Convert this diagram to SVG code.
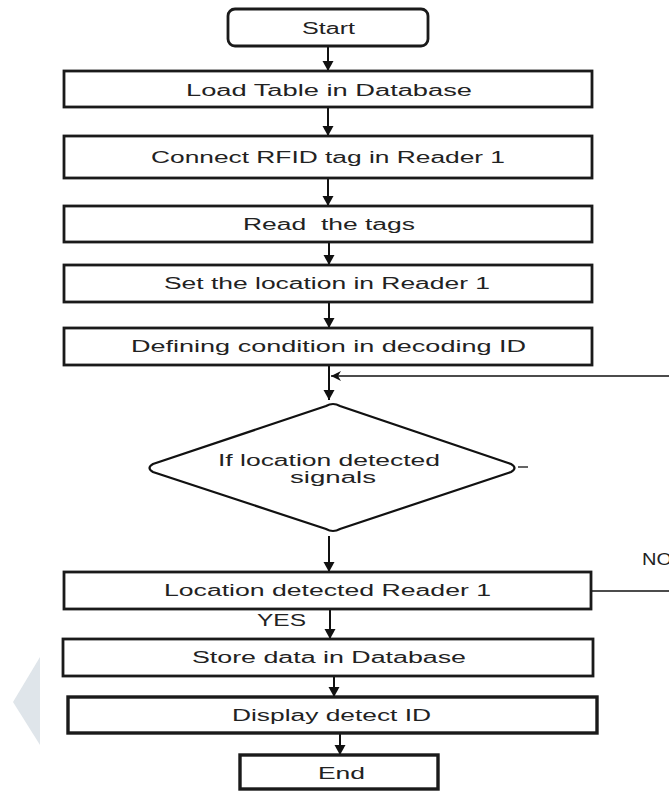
<svg xmlns="http://www.w3.org/2000/svg" width="669" height="791" viewBox="0 0 669 791">
<defs>
<style>
.box{fill:#fff;stroke:#1a1a1a;stroke-width:2.8}
.thick{stroke-width:3.4}
.t{font-family:"Liberation Sans",Arial,sans-serif;font-size:16px;fill:#222;text-anchor:start}
.c{fill:none;stroke:#111;stroke-width:2}
.thin{fill:none;stroke:#111;stroke-width:1.3}
</style>
<marker id="ah" markerUnits="userSpaceOnUse" markerWidth="12" markerHeight="12" refX="10" refY="6" orient="auto">
<path d="M0,0.5 L10,6 L0,11.5 z" fill="#111"/>
</marker>
<marker id="ah2" markerUnits="userSpaceOnUse" markerWidth="12" markerHeight="12" refX="10" refY="6" orient="auto">
<path d="M0,1 L10,6 L0,11 L3,6 z" fill="#111"/>
</marker>
</defs>
<rect width="669" height="791" fill="#fff"/>
<polygon points="40,657 13,702 40,745" fill="#dfe5ea"/>

<g id="connectors">
<line class="c" x1="328" y1="46" x2="328" y2="71" marker-end="url(#ah)"/>
<line class="c" x1="328" y1="107" x2="328" y2="136" marker-end="url(#ah)"/>
<line class="c" x1="328" y1="178" x2="328" y2="206" marker-end="url(#ah)"/>
<line class="c" x1="329" y1="242" x2="329" y2="265" marker-end="url(#ah)"/>
<line class="c" x1="329" y1="302" x2="329" y2="328" marker-end="url(#ah)"/>
<line class="c" x1="329" y1="365" x2="329" y2="400" marker-end="url(#ah)"/>
<line class="thin" x1="669" y1="376" x2="331" y2="376" marker-end="url(#ah2)"/>
<line class="thin" x1="518" y1="467" x2="528" y2="467"/>
<line class="c" x1="329" y1="536" x2="329" y2="572" marker-end="url(#ah)"/>
<line class="c" x1="330" y1="609" x2="330" y2="639" marker-end="url(#ah)"/>
<line class="thin" x1="592" y1="591" x2="669" y2="591"/>
<line class="c" x1="334" y1="676" x2="334" y2="697" marker-end="url(#ah)"/>
<line class="c" x1="340" y1="733" x2="340" y2="755" marker-end="url(#ah)"/>
<text class="t" x="257" y="626" textLength="49" lengthAdjust="spacingAndGlyphs">YES</text>
<text class="t" x="642" y="565" textLength="30" lengthAdjust="spacingAndGlyphs">NO</text>
</g>

<g id="start">
<rect class="box" x="228" y="9" width="200" height="37" rx="7"/>
<text class="t" x="302" y="34" textLength="53" lengthAdjust="spacingAndGlyphs">Start</text>
</g>
<g id="load">
<rect class="box" x="64" y="71" width="528" height="36"/>
<text class="t" x="186" y="95.5" textLength="286" lengthAdjust="spacingAndGlyphs">Load Table in Database</text>
</g>
<g id="connect">
<rect class="box" x="64" y="136" width="528" height="42"/>
<text class="t" x="151" y="163" textLength="354" lengthAdjust="spacingAndGlyphs">Connect RFID tag in Reader 1</text>
</g>
<g id="read">
<rect class="box" x="64" y="206" width="528" height="36"/>
<text class="t" x="243" y="230" textLength="172" lengthAdjust="spacingAndGlyphs" xml:space="preserve">Read  the tags</text>
</g>
<g id="set">
<rect class="box" x="64" y="265" width="528" height="37"/>
<text class="t" x="164" y="289" textLength="326" lengthAdjust="spacingAndGlyphs">Set the location in Reader 1</text>
</g>
<g id="defining">
<rect class="box" x="64" y="328" width="528" height="37"/>
<text class="t" x="131" y="352" textLength="395" lengthAdjust="spacingAndGlyphs">Defining condition in decoding ID</text>
</g>
<g id="decision">
<path d="M326,406 Q333,402 340,406 L511,464 Q518,468 511,472 L340,529 Q333,533 326,529 L153,472 Q146,468 153,464 Z" fill="#fff" stroke="#111" stroke-width="2.2"/>
<text class="t" x="218" y="466" textLength="222" lengthAdjust="spacingAndGlyphs">If location detected</text>
<text class="t" x="290" y="483" textLength="86" lengthAdjust="spacingAndGlyphs">signals</text>
</g>
<g id="location">
<rect class="box" x="64" y="572" width="527" height="37"/>
<text class="t" x="164" y="596" textLength="327" lengthAdjust="spacingAndGlyphs">Location detected Reader 1</text>
</g>
<g id="store">
<rect class="box" x="63" y="639" width="530" height="37"/>
<text class="t" x="192" y="663" textLength="274" lengthAdjust="spacingAndGlyphs">Store data in Database</text>
</g>
<g id="display">
<rect class="box thick" x="68" y="697" width="529" height="36"/>
<text class="t" x="232" y="721" textLength="199" lengthAdjust="spacingAndGlyphs">Display detect ID</text>
</g>
<g id="end">
<rect class="box thick" x="240" y="755" width="198" height="34"/>
<text class="t" x="318" y="779" textLength="47" lengthAdjust="spacingAndGlyphs">End</text>
</g>
</svg>
